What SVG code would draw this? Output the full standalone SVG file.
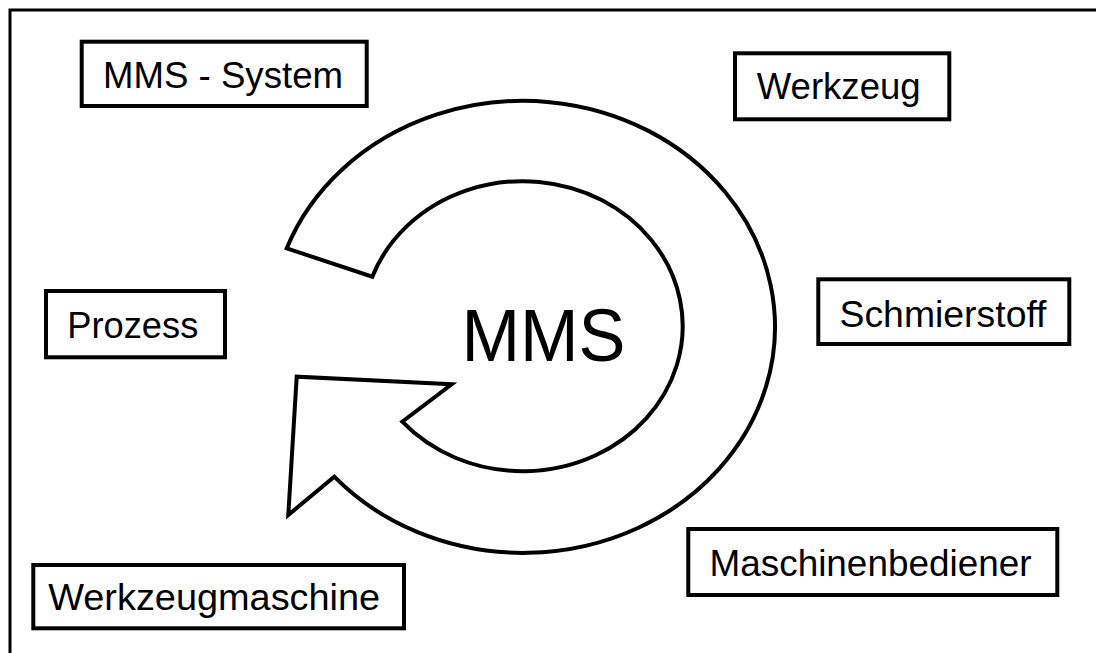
<svg xmlns="http://www.w3.org/2000/svg" width="1096" height="653" viewBox="0 0 1096 653">
  <style>
    .frame { fill: none; stroke: #000; stroke-width: 3; }
    .box { fill: #fff; stroke: #000; stroke-width: 4; }
    .label { font-family: "Liberation Sans", Arial, sans-serif; font-size: 36px; fill: #000; text-anchor: middle; }
    .cycle { fill: #fff; stroke: #000; stroke-width: 4; stroke-linejoin: miter; }
    .title { font-family: "Liberation Sans", Arial, sans-serif; font-size: 75px; fill: #000; text-anchor: middle; }
  </style>
  <rect width="1096" height="653" fill="#fff"/>
  <!-- outer frame, open to the right and bottom -->
  <rect class="frame" x="10" y="10" width="1100" height="660"/>

  <!-- circular arrow around the central label -->
  <g id="connectors">
    <path class="cycle" d="M 286.7 248.3 A 252 226 0 1 1 334.3 476.7 L 288.3 515 L 296.7 376.7 L 451.7 384.3 L 402.3 421.7 A 160 145 0 1 0 372.3 276.7 Z"/>
  </g>

  <g id="node-mms">
    <text class="title" x="543.4" y="361" textLength="164" lengthAdjust="spacingAndGlyphs">MMS</text>
  </g>

  <g id="node-mms-system">
    <rect class="box" x="81.7" y="41.7" width="285" height="64.3"/>
    <text class="label" x="223" y="88.3" textLength="240" lengthAdjust="spacingAndGlyphs">MMS - System</text>
  </g>

  <g id="node-werkzeug">
    <rect class="box" x="735" y="53.3" width="214.3" height="66"/>
    <text class="label" x="838.7" y="99.3" textLength="164" lengthAdjust="spacingAndGlyphs">Werkzeug</text>
  </g>

  <g id="node-prozess">
    <rect class="box" x="46" y="291" width="179" height="66.3"/>
    <text class="label" x="132.8" y="338.3" textLength="131" lengthAdjust="spacingAndGlyphs">Prozess</text>
  </g>

  <g id="node-schmierstoff">
    <rect class="box" x="818.3" y="279.3" width="251" height="64.7"/>
    <text class="label" x="943" y="327.3" textLength="207" lengthAdjust="spacingAndGlyphs">Schmierstoff</text>
  </g>

  <g id="node-maschinenbediener">
    <rect class="box" x="688.3" y="529" width="369" height="66"/>
    <text class="label" x="870.5" y="575.7" textLength="322" lengthAdjust="spacingAndGlyphs">Maschinenbediener</text>
  </g>

  <g id="node-werkzeugmaschine">
    <rect class="box" x="33.3" y="565" width="370.7" height="63.3"/>
    <text class="label" x="214.2" y="610" textLength="332" lengthAdjust="spacingAndGlyphs">Werkzeugmaschine</text>
  </g>
</svg>
